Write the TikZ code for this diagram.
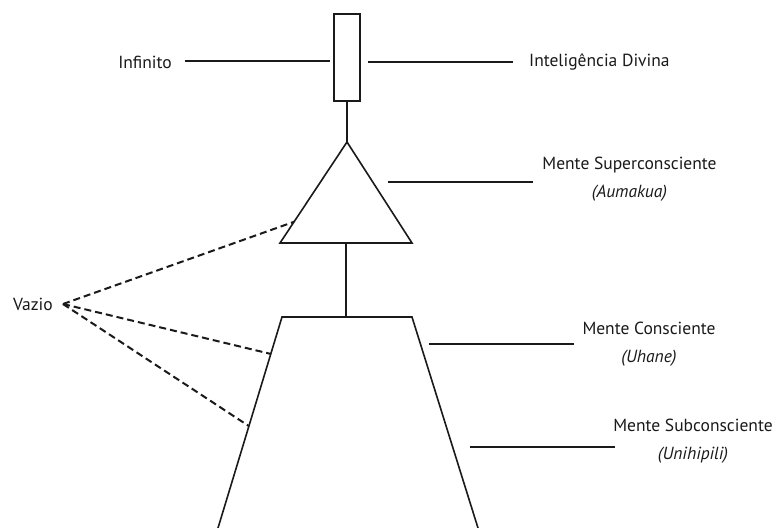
\documentclass[tikz,border=0pt]{standalone}
\usepackage{fontspec}
\setmainfont{PT Sans}
\usetikzlibrary{calc}
\definecolor{ink}{HTML}{1A1A1A}
\tikzset{
  figline/.style={draw=ink,line width=1.6pt,line join=miter},
  labline/.style={draw=ink,line width=2.8pt},
  voidline/.style={draw=ink,line width=2pt,dash pattern=on 7pt off 4pt},
  lbl/.style={text=ink,inner sep=0pt,font=\fontsize{17.5}{28}\selectfont},
}
\begin{document}
\begin{tikzpicture}[x=1pt,y=-1pt]
\useasboundingbox[fill=white] (0,0) rectangle (780,528);
% top rectangle
\node[figline,minimum width=26pt,minimum height=87pt,inner sep=0pt] (rect) at (347,57.5) {};
% triangle
\coordinate (tA) at (347,142);
\coordinate (tL) at (280,243);
\coordinate (tR) at (412,243);
\coordinate (tB) at (346,243);
\draw[figline] (tA) -- (tL) -- (tR) -- cycle;
% trapezoid
\coordinate (zTL) at (282,317);
\coordinate (zTR) at (412,317);
\coordinate (zBL) at (218,528);
\coordinate (zBR) at (478,528);
\coordinate (zT) at (346,317);
\draw[figline] (zBL) -- (zTL) -- (zTR) -- (zBR);
% connectors
\draw[figline] (rect.south) -- (tA);
\draw[figline] (tB) -- (zT);
% labels
\node[lbl,anchor=east] (inf) at (172,62) {Infinito};
\node[lbl,anchor=west] (div) at (529,62) {Inteligência Divina};
\node[lbl,align=center] (sup) at (629.5,179) {Mente Superconsciente\\\textit{(Aumakua)}};
\node[lbl,align=center] (con) at (649,344) {Mente Consciente\\\textit{(Uhane)}};
\node[lbl,align=center] (sub) at (693,441) {Mente Subconsciente\\\textit{(Unihipili)}};
\node[lbl,anchor=east] (vaz) at (53,304) {Vazio};
% label lines
\coordinate (l1a) at (185,61); \coordinate (l1b) at (330,61);
\coordinate (l2a) at (368,62); \coordinate (l2b) at (513,62);
\coordinate (l3a) at (388,182); \coordinate (l3b) at (533,182);
\coordinate (l4a) at (429,344); \coordinate (l4b) at (574,344);
\coordinate (l5a) at (470,447); \coordinate (l5b) at (615,447);
\draw[labline] (l1a) -- (l1b);
\draw[labline] (l2a) -- (l2b);
\draw[labline] (l3a) -- (l3b);
\draw[labline] (l4a) -- (l4b);
\draw[labline] (l5a) -- (l5b);
% void lines
\coordinate (vz) at (63,304);
\coordinate (d1) at ($(tA)!0.79!(tL)$);
\coordinate (d2) at ($(zTL)!0.175!(zBL)$);
\coordinate (d3) at ($(zTL)!0.517!(zBL)$);
\draw[voidline] (vz) -- (d1);
\draw[voidline] (vz) -- (d2);
\draw[voidline] (vz) -- (d3);
\end{tikzpicture}
\end{document}
